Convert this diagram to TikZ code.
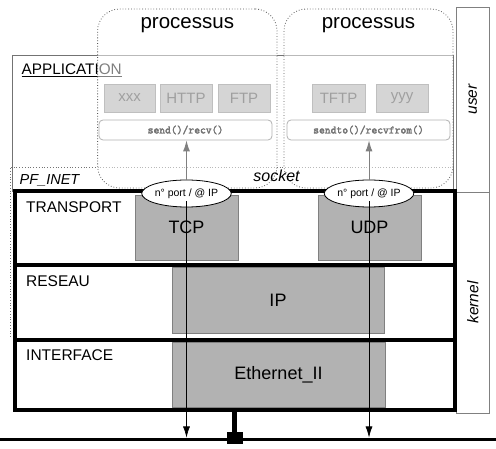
\documentclass[tikz,border=0pt]{standalone}
\usepackage{fontspec}
\setmainfont{Liberation Sans}
\setmonofont{Latin Modern Mono}[AutoFakeBold=2.5]
\usepackage{xcolor}
\usetikzlibrary{arrows.meta,shapes.geometric}
\tikzset{
	layerbox/.style={draw, line width=4pt, minimum width=439.8pt},
	protobox/.style={draw=black!50, fill=black!30, line width=0.8pt, align=center,
		font=\fontsize{18}{20}\selectfont},
	appbox/.style={draw=black!50, fill=black!33, line width=0.8pt, minimum height=28pt,
		text=black!75, font=\fontsize{15}{17}\selectfont},
	sockbox/.style={draw=black!30, fill=white, rounded corners=4pt, line width=0.8pt,
		minimum height=20pt, text=black!55, font=\fontsize{11.3}{13}\selectfont\ttfamily\bfseries},
	sapnode/.style={ellipse, draw, fill=white, line width=0.8pt, minimum width=78pt,
		minimum height=27pt, inner sep=0pt, font=\fontsize{10.5}{12}\selectfont},
	sidebox/.style={draw=black!50, line width=0.9pt, minimum width=32.3pt},
	arrow/.style={-{Latex[length=11pt,width=7pt]}, line width=0.7pt}
}

\begin{document}
\begin{tikzpicture}[x=1pt, y=-1pt,
		procbox/.style={draw=black!65, dotted, line width=0.8pt, rounded corners=22pt,
			fill=white, fill opacity=0.5, minimum height=179pt},
		layername/.style={anchor=base west, inner sep=0pt, font=\fontsize{15.5}{17}\selectfont},
		tagname/.style={inner sep=0pt, font=\fontsize{15.5}{17}\selectfont\itshape},
		]
	\useasboundingbox (0,0) rectangle (496,449);
	
	%% -- user / kernel columns
	\node[sidebox, minimum height=185pt] (user) at (472.8,99.5) {};
	\node[sidebox, minimum height=221pt] (kernel) at (472.8,302.5) {};
	\node[tagname, rotate=90] at (user) {user};
	\node[tagname, rotate=90] at (kernel) {kernel};
	
	%% -- Application area
	\draw[draw=black!55, line width=0.9pt] (12.7,192) -- (12.7,55) -- (453,55) -- (453,192);
	\node[layername, font=\fontsize{15.3}{17}\selectfont] (appl) at (21.5,75) {\underline{APPLICATION}};
	
	\node[appbox, minimum width=51pt] (xxx) at (129.5,98) {xxx};
	\node[appbox, minimum width=52pt] (http) at (186,98) {HTTP};
	\node[appbox, minimum width=52pt] (ftp) at (244,98) {FTP};
	\node[appbox, minimum width=53pt] (tftp) at (338.5,98) {TFTP};
	\node[appbox, minimum width=52pt] (yyy) at (402,98) {yyy};
	
	%% -- PF_INET area
	\draw[draw=black!55, dotted, line width=0.8pt] (10,337) -- (10,167) -- (453,167) -- (453,337);
	
	%% -- Processes (veiled)
	\node[procbox, minimum width=179.4pt] (procA) at (187.3,98.5) {};
	\node[procbox, minimum width=169pt] (procB) at (368.5,98.5) {};
	\node[anchor=base, inner sep=0pt, font=\fontsize{20.5}{24}\selectfont] at (187.3,28.5) {processus};
	\node[anchor=base, inner sep=0pt, font=\fontsize{20.5}{24}\selectfont] at (368.5,28.5) {processus};
	
	\node[sockbox, minimum width=173pt] (sockA) at (185.5,130) {send()/recv()};
	\node[sockbox, minimum width=163pt] (sockB) at (368.5,130) {sendto()/recvfrom()};
	
	\node[tagname, anchor=base west, font=\fontsize{14.5}{17}\selectfont\itshape] at (19.5,185) {PF\_INET};
	\node[tagname, anchor=base, font=\fontsize{16}{18}\selectfont\itshape] at (276.5,182) {socket};
	
	%% -- Kernel layers
	\node[layerbox, minimum height=73.8pt] (transport) at (234.6,228.4) {};
	\node[layerbox, minimum height=74.7pt] (reseau) at (234.6,302.65) {};
	\node[layerbox, minimum height=70.3pt] (interface) at (234.6,375.15) {};
	\node[layername] at (26,213) {TRANSPORT};
	\node[layername] at (26,286.7) {RESEAU};
	\node[layername] at (26,361) {INTERFACE};
	
	%% -- Protocols
	\node[protobox, minimum width=103pt, minimum height=65pt] (tcp) at (186.5,227.5) {TCP};
	\node[protobox, minimum width=103pt, minimum height=65pt] (udp) at (369.5,227.5) {UDP};
	\node[protobox, minimum width=212pt, minimum height=66pt] (ip) at (278,300) {IP};
	\node[protobox, minimum width=213pt, minimum height=65pt] (eth) at (278.5,374.5) {Ethernet\_II};
	
	%% -- Network bus
	\coordinate (busL) at (0,439.5);
	\coordinate (busR) at (496,439.5);
	\draw[line width=3.5pt] (busL) -- (busR);
	\node[fill=black, inner sep=0pt, minimum width=16pt, minimum height=12pt] (tap) at (234.7,438.5) {};
	\draw[line width=5pt] (interface.south -| tap) -- (tap);
	
	%% -- Access points and data paths
	\node[sapnode] (tcpsap) at (186.5,193.5) {n° port / @ IP};
	\node[sapnode] (udpsap) at (369,193.5) {n° port / @ IP};
	
	\draw[arrow, black!50, line width=1pt] (tcpsap.north) -- (tcpsap.north |- sockA.south);
	\draw[arrow, black!50, line width=1pt] (udpsap.north) -- (udpsap.north |- sockB.south);
	
	\coordinate (tcpdrop) at (186.5,437.5);
	\coordinate (udpdrop) at (369,437.5);
	\draw[arrow] ([yshift=-8pt]tcpsap.center) -- (tcpdrop);
	\draw[arrow] ([yshift=-8pt]udpsap.center) -- (udpdrop);
	
\end{tikzpicture}
\end{document}
